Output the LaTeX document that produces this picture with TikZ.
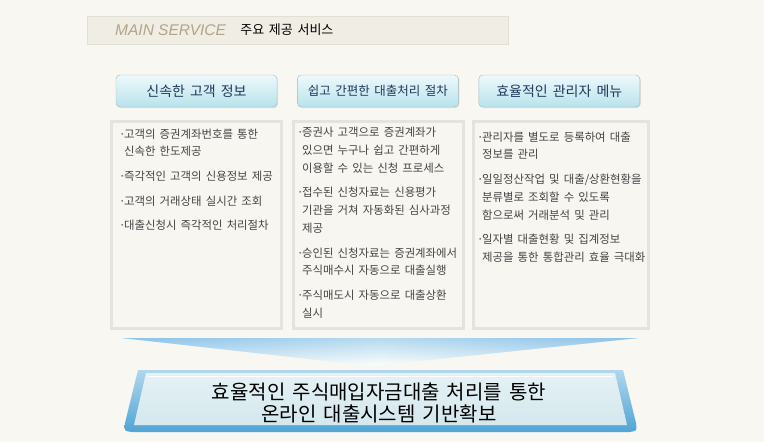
\documentclass[tikz,border=0pt]{standalone}
\usepackage{fontspec}
\setmainfont{Noto Sans CJK KR}[WordSpace=1.6]
\newfontfamily\engfont{Liberation Sans}
\usepackage{tikz}
\usetikzlibrary{positioning, shadows}
\usepackage{xcolor}
\definecolor{pagebg}{HTML}{F8F7F1}
\definecolor{barfill}{HTML}{EFEDE4}
\definecolor{barline}{HTML}{E2DFD4}
\definecolor{tanbrown}{HTML}{B2A488}
\definecolor{navy}{HTML}{1E3A5C}
\definecolor{btntop}{HTML}{EEF9FB}
\definecolor{btnbot}{HTML}{B9E2EC}
\definecolor{btnline}{HTML}{9DB9C6}
\definecolor{panelfill}{HTML}{F7F6F1}
\definecolor{panelline}{HTML}{E4E3DC}
\definecolor{itemgray}{HTML}{444444}
\definecolor{funnelblue}{HTML}{8CC2EA}
\definecolor{boxedge}{HTML}{4FA5D5}
\definecolor{boxfill}{HTML}{D4E8EE}
\newcommand{\bul}{\makebox[5pt][l]{·}}
\newcommand{\cont}{\hspace*{5pt}}

\begin{document}
\begin{tikzpicture}[
    x=1pt, y=-1pt,
    node distance=20pt,
    headbar/.style={rectangle, draw=barline, fill=barfill, anchor=north west, minimum width=421pt, minimum height=28pt, inner sep=0pt},
    headbtn/.style={rectangle, rounded corners=4pt, draw=btnline, top color=btntop, bottom color=btnbot, minimum width=161pt, minimum height=32pt, inner sep=0pt, text=navy, font=\fontsize{14}{14}\selectfont, drop shadow={opacity=0.2, shadow xshift=1pt, shadow yshift=-1pt}},
    panel/.style={rectangle, draw=panelline, line width=2.5pt, fill=panelfill, anchor=north west, inner sep=0pt},
    itemlist/.style={anchor=north west, inner sep=0pt, align=left, text=itemgray, font=\fontsize{11.4}{17.8}\selectfont},
]
    \useasboundingbox (0,0) rectangle (764,442);
    \fill[pagebg] (0,0) rectangle (764,442);

    % Title bar
    \node[headbar] (bar) at (87,16) {};
    \node[anchor=west, inner sep=0pt, text=tanbrown, font=\engfont\itshape\fontsize{15.5}{15.5}\selectfont] (mainsvc) at (115,30) {MAIN SERVICE};
    \node[right=14pt of mainsvc, inner sep=0pt, font=\fontsize{13}{13}\selectfont] (mainko) {주요 제공 서비스};

    % Heading buttons
    \node[headbtn] (btn1) at (196.5,91) {신속한 고객 정보};
    \node[headbtn, right=of btn1, font=\fontsize{12.5}{12.5}\selectfont] (btn2) {쉽고 간편한 대출처리 절차};
    \node[headbtn, right=of btn2] (btn3) {효율적인 관리자 메뉴};

    % Panels
    \node[panel, minimum width=170pt, minimum height=207pt] (pan1) at (110,120) {};
    \node[panel, minimum width=170pt, minimum height=207pt] (pan2) at (292,120) {};
    \node[panel, minimum width=175pt, minimum height=207pt] (pan3) at (472,120) {};

    \node[itemlist] (list1) at (119,128.5) {%
        \bul 고객의 증권계좌번호를 통한\\\cont 신속한 한도제공\\[6.8pt]
        \bul 즉각적인 고객의 신용정보 제공\\[6.8pt]
        \bul 고객의 거래상태 실시간 조회\\[6.8pt]
        \bul 대출신청시 즉각적인 처리절차};
    \node[itemlist] (list2) at (297,127) {%
        \bul 증권사 고객으로 증권계좌가\\\cont 있으면 누구나 쉽고 간편하게\\\cont 이용할 수 있는 신청 프로세스\\[6.8pt]
        \bul 접수된 신청자료는 신용평가\\\cont 기관을 거쳐 자동화된 심사과정\\\cont 제공\\[6.8pt]
        \bul 승인된 신청자료는 증권계좌에서\\\cont 주식매수시 자동으로 대출실행\\[6.8pt]
        \bul 주식매도시 자동으로 대출상환\\\cont 실시};
    \node[itemlist] (list3) at (477,131.5) {%
        \bul 관리자를 별도로 등록하여 대출\\\cont 정보를 관리\\[6.8pt]
        \bul 일일정산작업 및 대출/상환현황을\\\cont 분류별로 조회할 수 있도록\\\cont 함으로써 거래분석 및 관리\\[6.8pt]
        \bul 일자별 대출현황 및 집계정보\\\cont 제공을 통한 통합관리 효율 극대화};

    % Funnel
    \coordinate (fl) at (122,338);
    \coordinate (fr) at (638,338);
    \coordinate (fa) at (372,366);
    \shade[left color=funnelblue, right color=funnelblue, middle color=white!85!green!20] (fl) -- (fr) -- (fa) -- cycle;
    \shade[top color=funnelblue, bottom color=white, opacity=0.6] (fl) -- (fr) -- (fa) -- cycle;

    % Result box
    \shade[top color=boxedge!45, bottom color=boxedge] (138,370) -- (623,370) -- (636,423) .. controls (637,431) .. (629,432) -- (132,432) .. controls (124,431) .. (125,423) -- cycle;
    \shade[top color=boxfill!60!white, bottom color=boxfill] (146,373) -- (615,373) -- (627,425) -- (134,425) -- cycle;
    \draw[white, line width=1pt] (148,376) -- (613,376);
    \node[align=center, inner sep=0pt, font=\fontsize{20}{22.5}\selectfont] (goal) at (379,403) {효율적인 주식매입자금대출 처리를 통한\\온라인 대출시스템 기반확보};
\end{tikzpicture}
\end{document}
